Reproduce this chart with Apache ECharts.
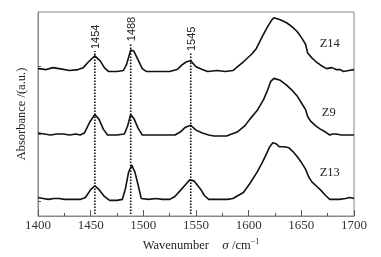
<!DOCTYPE html>
<html lang="en">
<head>
    <meta charset="UTF-8">
    <title>Absorbance spectra</title>
    <script src="https://cdn.jsdelivr.net/npm/echarts@6/dist/echarts.min.js"></script>
</head>
<body style="margin: 0">
<div id="chart" style="width: 381px;height: 257px"></div>
<script>
    // spectra (wavenumber, absorbance in arbitrary offset units)
    let z14 = [[1400,151],[1408,150],[1414,152],[1420,151],[1430,149],[1438,150],[1443,152],[1448,158],[1454,164],[1459,159],[1463,152],[1467,148],[1475,148],[1481,149],[1484,155],[1488,170],[1491,169],[1495,160],[1499,151],[1503,148],[1515,148],[1525,148],[1532,150],[1537,155],[1541,158],[1545,159],[1550,153],[1556,150],[1561,148],[1570,149],[1578,148],[1585,149],[1595,158],[1603,166],[1607,171],[1613,184],[1618,194],[1622,201],[1624,203],[1630,201],[1636,198],[1641,194],[1646,189],[1650,183],[1654,176],[1656,167],[1660,162],[1664,158],[1669,154],[1674,151],[1679,152],[1683,150],[1687,150],[1690,148],[1695,149],[1700,150]];
    let z9 = [[1400,85],[1406,84],[1412,83],[1418,84],[1424,84],[1430,83],[1436,84],[1440,83],[1444,85],[1449,96],[1454,104],[1458,99],[1462,89],[1466,83],[1475,83],[1482,84],[1485,92],[1488,104],[1491,100],[1495,90],[1499,83],[1510,83],[1520,83],[1530,83],[1535,86],[1540,91],[1545,93],[1550,88],[1556,85],[1562,83],[1567,82],[1579,82],[1589,86],[1596,92],[1601,99],[1608,108],[1614,119],[1618,129],[1621,138],[1624,141],[1630,139],[1636,134],[1641,129],[1646,123],[1650,116],[1654,109],[1656,102],[1659,97],[1664,92],[1668,89],[1673,86],[1677,83],[1680,84],[1683,84],[1688,83],[1692,83],[1700,83]];
    let z13 = [[1400,19],[1405,18],[1410,17],[1415,18],[1420,18],[1425,17],[1432,17],[1440,17],[1445,19],[1450,27],[1454,31],[1458,27],[1463,20],[1468,16],[1475,16],[1480,17],[1483,28],[1486,45],[1489,52],[1492,45],[1495,32],[1498,18],[1505,17],[1512,18],[1518,17],[1525,17],[1530,20],[1535,26],[1540,32],[1544,37],[1548,36],[1554,28],[1558,21],[1562,17],[1570,17],[1580,17],[1585,18],[1590,21],[1595,24],[1601,33],[1608,45],[1613,55],[1617,64],[1620,71],[1623,75],[1626,74],[1629,71],[1634,71],[1638,70],[1642,66],[1646,61],[1650,55],[1654,48],[1657,40],[1660,35],[1665,30],[1668,27],[1673,21],[1677,17],[1682,17],[1686,17],[1692,18],[1696,19],[1700,18]];

    let seriesNames = ['Z14', 'Z9', 'Z13'];
    let namePos = [[1677, 176], [1676, 106], [1677, 44]];

    let peaks = [1454, 1488, 1545];
    let peakTop = [169, 177, 167];
    let peakBottom = 2;

    let yTicks = [15, 84, 153];

    let chart = echarts.init(document.getElementById('chart'));

    let curves = [z14, z9, z13].map(function (d, i) {
        return {
            name: seriesNames[i],
            type: 'line',
            data: d,
            symbol: 'none',
            lineStyle: {color: '#111', width: 1.6, join: 'round'},
            z: 3
        };
    });

    let dotted = peaks.map(function (p, i) {
        return {
            type: 'line',
            data: [[p, peakBottom], [p, peakTop[i]]],
            symbol: 'none',
            lineStyle: {color: '#111', width: 1.6, type: [1.5, 1.5]},
            z: 2
        };
    });

    let option = {
        animation: false,
        grid: {
            left: 38, right: 27, top: 12, bottom: 36,
            show: true, borderColor: '#888', borderWidth: 1
        },
        xAxis: {
            type: 'value',
            min: 1400, max: 1700, interval: 50,
            axisLine: {lineStyle: {color: '#888'}},
            axisTick: {inside: true, length: 6, lineStyle: {color: '#555'}},
            minorTick: {show: true, splitNumber: 2, length: 3, lineStyle: {color: '#555'}},
            splitLine: {show: false},
            axisLabel: {
                color: '#333', fontFamily: 'Liberation Serif', fontSize: 13, margin: 3,
                formatter: function (v) { return String(v); }
            },
            name: '{a|Wavenumber}    {i|σ} {a|/cm}{s|−1}',
            nameLocation: 'middle',
            nameGap: 22,
            nameTextStyle: {
                padding: [0, 0, 0, 10],
                rich: {
                    a: {fontFamily: 'Liberation Serif', fontSize: 12.5, color: '#222'},
                    i: {fontFamily: 'Liberation Serif', fontStyle: 'italic', fontSize: 13, color: '#222'},
                    s: {fontFamily: 'Liberation Serif', fontSize: 8, color: '#222', padding: [0, 0, 7, 0]}
                }
            }
        },
        yAxis: {
            type: 'value',
            min: 0, max: 209,
            axisLine: {show: true, lineStyle: {color: '#888'}},
            axisTick: {show: true, inside: true, length: 3, customValues: yTicks, lineStyle: {color: '#555'}},
            axisLabel: {show: false},
            splitLine: {show: false},
            name: 'Absorbance /(a.u.)',
            nameLocation: 'middle',
            nameGap: 10,
            nameTextStyle: {fontFamily: 'Liberation Serif', fontSize: 12.5, color: '#222'}
        },
        series: curves.concat(dotted)
    };
    chart.setOption(option);

    // text annotations positioned from data coordinates
    let graphics = [];
    peaks.forEach(function (p, i) {
        let pt = chart.convertToPixel({gridIndex: 0}, [p, peakTop[i]]);
        graphics.push({
            type: 'text',
            x: pt[0] + 1, y: pt[1] - 2,
            rotation: Math.PI / 2,
            style: {
                text: String(p), fill: '#222',
                font: '11px "Liberation Sans"',
                align: 'left', verticalAlign: 'middle'
            }
        });
    });
    seriesNames.forEach(function (n, i) {
        let pt = chart.convertToPixel({gridIndex: 0}, namePos[i]);
        graphics.push({
            type: 'text',
            x: pt[0], y: pt[1],
            style: {
                text: n, fill: '#222',
                font: '12.5px "Liberation Serif"',
                align: 'center', verticalAlign: 'middle'
            }
        });
    });
    chart.setOption({graphic: graphics});
</script>
</body>
</html>
